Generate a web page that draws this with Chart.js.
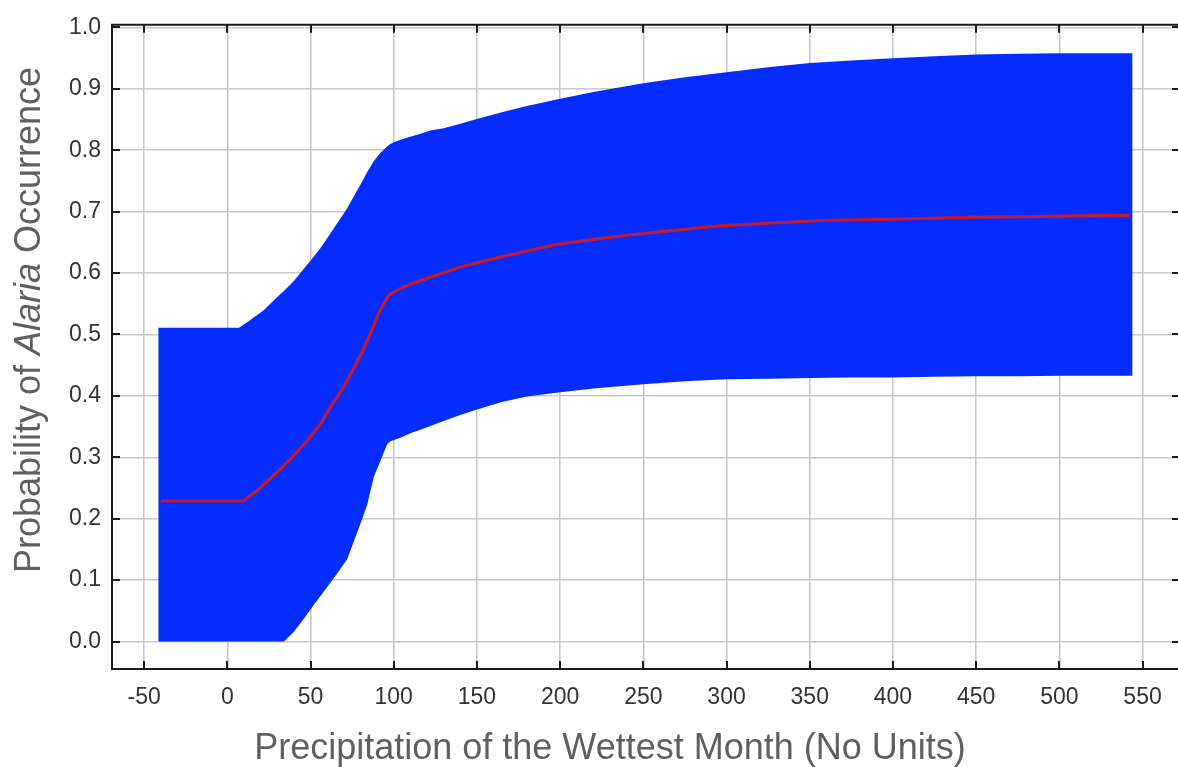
<!DOCTYPE html>
<html>
<head>
<meta charset="utf-8">
<title>Probability of Alaria Occurrence</title>
<script src="https://cdn.jsdelivr.net/npm/chart.js@4/dist/chart.umd.min.js"></script>
<style>
  html, body { margin: 0; padding: 0; background: #ffffff; }
  #wrap { width: 1178px; height: 767px; position: relative; }
</style>
</head>
<body>
<div id="wrap"><canvas id="c" width="1178" height="767"></canvas></div>
<script>
// Response band: shared precipitation values with lower / upper probability bounds
const bandX = [-41.5, 0, 7, 14, 22, 30, 34, 40, 46, 52, 56, 62, 66, 72, 76, 80, 84, 88, 92, 94, 96, 98, 100, 104, 110, 116, 122, 130, 140, 150, 165, 180, 200, 220, 250, 275, 300, 325, 350, 375, 400, 425, 450, 475, 500, 544];
const bandUpper = [0.511, 0.511, 0.511, 0.524, 0.540, 0.561, 0.571, 0.587, 0.607, 0.627, 0.641, 0.665, 0.681, 0.705, 0.725, 0.744, 0.764, 0.782, 0.796, 0.801, 0.806, 0.810, 0.813, 0.817, 0.822, 0.827, 0.832, 0.836, 0.843, 0.851, 0.862, 0.872, 0.884, 0.895, 0.909, 0.919, 0.927, 0.935, 0.942, 0.946, 0.950, 0.953, 0.956, 0.957, 0.958, 0.958];
const bandLower = [0, 0, 0, 0, 0, 0, 0, 0.016, 0.037, 0.060, 0.074, 0.096, 0.111, 0.134, 0.163, 0.192, 0.222, 0.268, 0.294, 0.308, 0.321, 0.326, 0.328, 0.332, 0.339, 0.345, 0.351, 0.359, 0.369, 0.378, 0.390, 0.399, 0.406, 0.412, 0.419, 0.424, 0.427, 0.428, 0.429, 0.430, 0.430, 0.431, 0.432, 0.432, 0.433, 0.433];

// Mean response curve
const meanX = [-40, 9.6, 18, 25.7, 33, 40.7, 48, 55.7, 62, 69.8, 76, 81.8, 87, 90.9, 94, 97.5, 104, 110, 121.7, 140, 160.5, 180, 196.3, 220, 241.3, 270, 295, 330, 361, 400, 421, 450, 480.5, 510, 542];
const meanY = [0.229, 0.229, 0.246, 0.265, 0.284, 0.305, 0.327, 0.353, 0.382, 0.414, 0.445, 0.476, 0.508, 0.534, 0.551, 0.565, 0.575, 0.582, 0.593, 0.610, 0.624, 0.636, 0.646, 0.655, 0.662, 0.670, 0.677, 0.682, 0.686, 0.688, 0.689, 0.691, 0.692, 0.693, 0.6935];

// Axis ticks and titles
const xTickValues = [-50, 0, 50, 100, 150, 200, 250, 300, 350, 400, 450, 500, 550];
const yTickValues = [0, 0.1, 0.2, 0.3, 0.4, 0.5, 0.6, 0.7, 0.8, 0.9, 1.0];
const xTitle = 'Precipitation of the Wettest Month (No Units)';
const yTitleParts = [
  { text: 'Probability of ', italic: false },
  { text: 'Alaria', italic: true },
  { text: ' Occurrence', italic: false }
];

const FONT = "'Liberation Sans', Arial, Helvetica, sans-serif";
const toPoints = (xs, ys) => xs.map((v, i) => ({ x: v, y: ys[i] }));

// Frame (left, top, bottom) with inward tick marks on all four sides, plus axis titles
const framePlugin = {
  id: 'frameAndTitles',
  afterDraw(chart) {
    const { ctx, chartArea: a, scales } = chart;
    const xs = scales.x, ys = scales.y;
    const right = chart.width;
    ctx.save();
    ctx.strokeStyle = '#1a1a1a';
    ctx.lineWidth = 2;
    ctx.beginPath();
    ctx.moveTo(right, a.top); ctx.lineTo(a.left, a.top);
    ctx.lineTo(a.left, a.bottom); ctx.lineTo(right, a.bottom);
    ctx.stroke();

    ctx.beginPath();
    const tl = 8;
    xTickValues.forEach(v => {
      const px = Math.round(xs.getPixelForValue(v));
      ctx.moveTo(px, a.bottom); ctx.lineTo(px, a.bottom - tl);
      ctx.moveTo(px, a.top); ctx.lineTo(px, a.top + tl);
    });
    yTickValues.forEach(v => {
      const py = Math.round(ys.getPixelForValue(v));
      ctx.moveTo(a.left, py); ctx.lineTo(a.left + tl, py);
      ctx.moveTo(right, py); ctx.lineTo(right - 6, py);
    });
    ctx.stroke();

    // x axis title
    ctx.fillStyle = '#5f5f5f';
    ctx.font = '36px ' + FONT;
    ctx.textAlign = 'center';
    ctx.textBaseline = 'alphabetic';
    ctx.fillText(xTitle, 610, 759);

    // y axis title (rotated, with italic genus name)
    ctx.translate(40, 320);
    ctx.rotate(-Math.PI / 2);
    ctx.textAlign = 'left';
    const fontFor = p => (p.italic ? 'italic ' : '') + '36px ' + FONT;
    let total = 0;
    yTitleParts.forEach(p => { ctx.font = fontFor(p); total += ctx.measureText(p.text).width; });
    let cx = -total / 2;
    yTitleParts.forEach(p => {
      ctx.font = fontFor(p);
      ctx.fillText(p.text, cx, 0);
      cx += ctx.measureText(p.text).width;
    });
    ctx.restore();
  }
};

new Chart(document.getElementById('c'), {
  type: 'line',
  data: {
    datasets: [
      {
        label: 'Mean response',
        data: toPoints(meanX, meanY),
        borderColor: 'rgb(190, 26, 50)',
        borderWidth: 3.2,
        pointRadius: 0,
        tension: 0,
        fill: false
      },
      {
        label: 'Upper bound',
        data: toPoints(bandX, bandUpper),
        borderWidth: 0,
        borderColor: 'rgba(0,0,0,0)',
        backgroundColor: 'rgb(4, 44, 255)',
        pointRadius: 0,
        tension: 0,
        fill: '+1'
      },
      {
        label: 'Lower bound',
        data: toPoints(bandX, bandLower),
        borderWidth: 0,
        borderColor: 'rgba(0,0,0,0)',
        pointRadius: 0,
        tension: 0,
        fill: false
      }
    ]
  },
  options: {
    responsive: false,
    animation: false,
    devicePixelRatio: 1,
    layout: { padding: { top: 12, right: 0, bottom: 0, left: 0 } },
    plugins: {
      legend: { display: false },
      tooltip: { enabled: false },
      title: { display: false }
    },
    scales: {
      x: {
        type: 'linear',
        min: -69.3,
        max: 571.3,
        afterFit(scale) { scale.height = 98; },
        afterBuildTicks(scale) { scale.ticks = xTickValues.map(v => ({ value: v })); },
        grid: { color: '#c8c8c8', lineWidth: 1.6, drawTicks: false },
        border: { display: false },
        ticks: {
          padding: 15,
          color: '#333333',
          font: { family: FONT, size: 23 },
          maxRotation: 0,
          autoSkip: false,
          callback: v => String(v)
        }
      },
      y: {
        type: 'linear',
        min: -0.0447,
        max: 1.0043,
        afterFit(scale) { scale.width = 112; },
        afterBuildTicks(scale) { scale.ticks = yTickValues.map(v => ({ value: v })); },
        grid: { color: '#c8c8c8', lineWidth: 1.6, drawTicks: false },
        border: { display: false },
        ticks: {
          padding: 11,
          color: '#333333',
          font: { family: FONT, size: 23 },
          autoSkip: false,
          callback: v => Number(v).toFixed(1)
        }
      }
    }
  },
  plugins: [framePlugin]
});
</script>
</body>
</html>
